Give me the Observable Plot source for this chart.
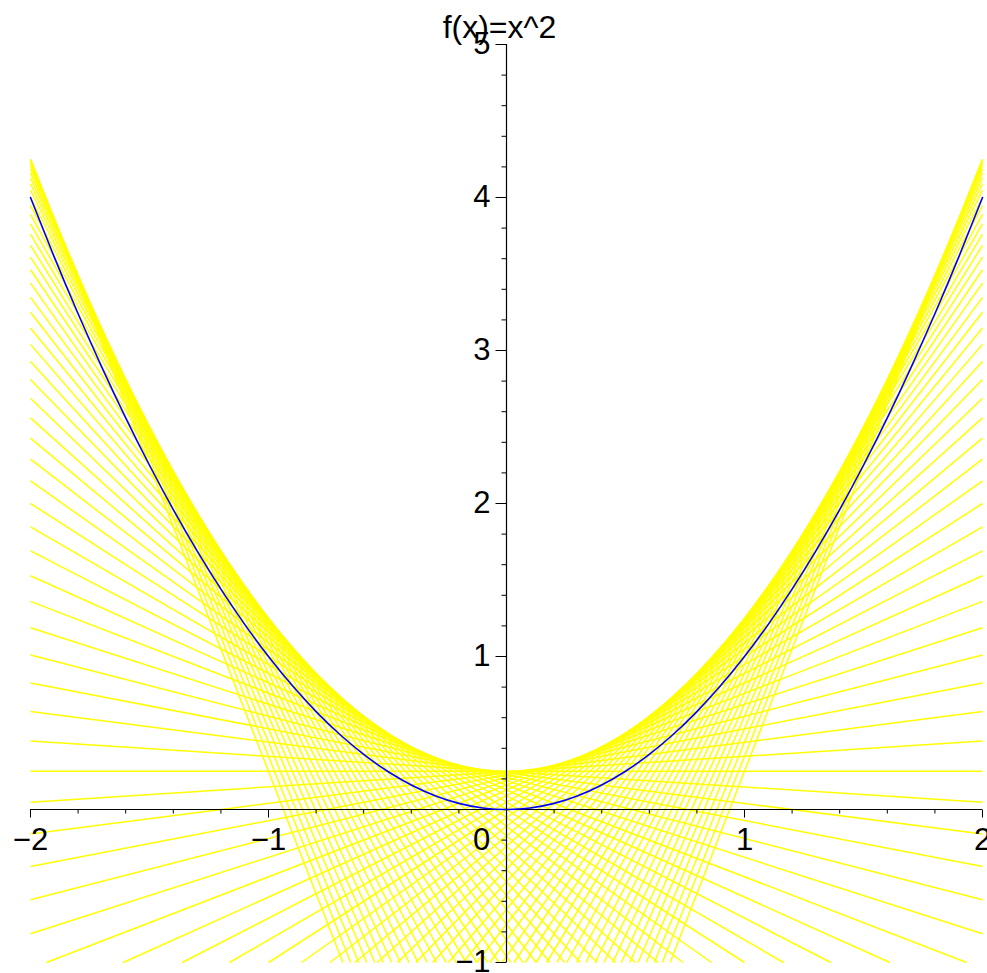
<!DOCTYPE html>
<html>
<head>
<meta charset="utf-8">
<script src="https://cdn.jsdelivr.net/npm/d3@7"></script>
<script src="https://cdn.jsdelivr.net/npm/@observablehq/plot@0.6"></script>
<style>
  html, body { margin: 0; padding: 0; background: #fff; overflow: hidden; }
  #chart { width: 987px; height: 973px; }
</style>
</head>
<body>
<div id="chart"></div>
<script>
// f(x) = x^2 together with the family of lines tangent to y = x^2 + 1/4
const title = "f(x)=x^2";
const xDomain = [-2, 2];
const yDomain = [-1, 5];

// points of tangency a on y = x^2 + lift; each line is y = 2a·x − a² + lift
const lift = 0.25;
const tangentAt = [
  -2, -1.95, -1.9, -1.85, -1.8, -1.75, -1.7, -1.65, -1.6, -1.55,
  -1.5, -1.45, -1.4, -1.35, -1.3, -1.25, -1.2, -1.15, -1.1, -1.05,
  -1, -0.95, -0.9, -0.85, -0.8, -0.75, -0.7, -0.65, -0.6, -0.55,
  -0.5, -0.45, -0.4, -0.35, -0.3, -0.25, -0.2, -0.15, -0.1, -0.05,
  0,
  0.05, 0.1, 0.15, 0.2, 0.25, 0.3, 0.35, 0.4, 0.45, 0.5,
  0.55, 0.6, 0.65, 0.7, 0.75, 0.8, 0.85, 0.9, 0.95, 1,
  1.05, 1.1, 1.15, 1.2, 1.25, 1.3, 1.35, 1.4, 1.45, 1.5,
  1.55, 1.6, 1.65, 1.7, 1.75, 1.8, 1.85, 1.9, 1.95, 2
];

// sample points for the curve f(x) = x^2
const curveX = [
  -2, -1.9, -1.8, -1.7, -1.6, -1.5, -1.4, -1.3, -1.2, -1.1,
  -1, -0.9, -0.8, -0.7, -0.6, -0.5, -0.4, -0.3, -0.2, -0.1,
  0, 0.1, 0.2, 0.3, 0.4, 0.5, 0.6, 0.7, 0.8, 0.9,
  1, 1.1, 1.2, 1.3, 1.4, 1.5, 1.6, 1.7, 1.8, 1.9, 2
];

// axis ticks and labels
const xTickValues = [-2, -1, 1, 2];
const xTickLabels = ["\u22122", "\u22121", "1", "2"];
const originLabel = "0";
const xMinorTicks = [-1.8, -1.6, -1.4, -1.2, -0.8, -0.6, -0.4, -0.2, 0.2, 0.4, 0.6, 0.8, 1.2, 1.4, 1.6, 1.8];
const yTickValues = [-1, 1, 2, 3, 4, 5];
const yTickLabels = ["\u22121", "1", "2", "3", "4", "5"];
const yMinorTicks = [-0.8, -0.6, -0.4, -0.2, 0.2, 0.4, 0.6, 0.8,
  1.2, 1.4, 1.6, 1.8, 2.2, 2.4, 2.6, 2.8, 3.2, 3.4, 3.6, 3.8, 4.2, 4.4, 4.6, 4.8];

// layout
const width = 987, height = 973;
const margin = {top: 44, right: 5, bottom: 11, left: 30};
const pxPerX = (width - margin.left - margin.right) / (xDomain[1] - xDomain[0]);
const pxPerY = (height - margin.top - margin.bottom) / (yDomain[1] - yDomain[0]);

// each tangent line, cut to the visible window
const segments = tangentAt.map(a => {
  const m = 2 * a, b = lift - a * a;
  let x1 = xDomain[0], x2 = xDomain[1];
  if (m !== 0) {
    const xa = (yDomain[0] - b) / m, xb = (yDomain[1] - b) / m;
    x1 = Math.max(x1, Math.min(xa, xb));
    x2 = Math.min(x2, Math.max(xa, xb));
  }
  return {x1, y1: m * x1 + b, x2, y2: m * x2 + b};
}).filter(s => s.x1 < s.x2);

const curve = curveX.map(x => ({x, y: x * x}));

// tick marks: x ticks hang below the x axis, y ticks stick out to the left
const xTick = (len) => ({x1: d => d, x2: d => d, y1: () => 0, y2: () => -len / pxPerY, stroke: "black", strokeWidth: 1});
const yTick = (len) => ({y1: d => d, y2: d => d, x1: () => 0, x2: () => -len / pxPerX, stroke: "black", strokeWidth: 1});

const font = "'Liberation Sans', Arial, Helvetica, sans-serif";

const chart = Plot.plot({
  width, height,
  marginTop: margin.top, marginRight: margin.right,
  marginBottom: margin.bottom, marginLeft: margin.left,
  x: {domain: xDomain, axis: null},
  y: {domain: yDomain, axis: null},
  style: {background: "white", fontFamily: font, color: "black"},
  marks: [
    Plot.link(segments, {x1: "x1", y1: "y1", x2: "x2", y2: "y2", stroke: "#ffff00", strokeWidth: 1.5}),
    Plot.ruleY([0], {stroke: "black", strokeWidth: 1.2}),
    Plot.ruleX([0], {stroke: "black", strokeWidth: 1.2}),
    Plot.link(xTickValues, xTick(8)),
    Plot.link(xMinorTicks, xTick(4)),
    Plot.link(yTickValues, yTick(11)),
    Plot.link(yMinorTicks, yTick(5)),
    Plot.line(curve, {x: "x", y: "y", stroke: "#0000ff", strokeWidth: 1.6, curve: "natural"}),
    Plot.text(xTickValues, {x: d => d, y: () => 0, text: (d, i) => xTickLabels[i],
      lineAnchor: "top", dy: 18, fontSize: 31, fill: "black"}),
    Plot.text([originLabel], {x: () => 0, y: () => 0, text: d => d,
      lineAnchor: "top", dy: 18, dx: -25, fontSize: 31, fill: "black"}),
    Plot.text(yTickValues, {x: () => 0, y: d => d, text: (d, i) => yTickLabels[i],
      textAnchor: "end", lineAnchor: "middle", dx: -16, fontSize: 31, fill: "black"}),
    Plot.text([title], {frameAnchor: "top", text: d => d, lineAnchor: "bottom",
      dy: -7, dx: -7, fontSize: 32, fill: "black"})
  ]
});

document.getElementById("chart").appendChild(chart);
</script>
</body>
</html>
